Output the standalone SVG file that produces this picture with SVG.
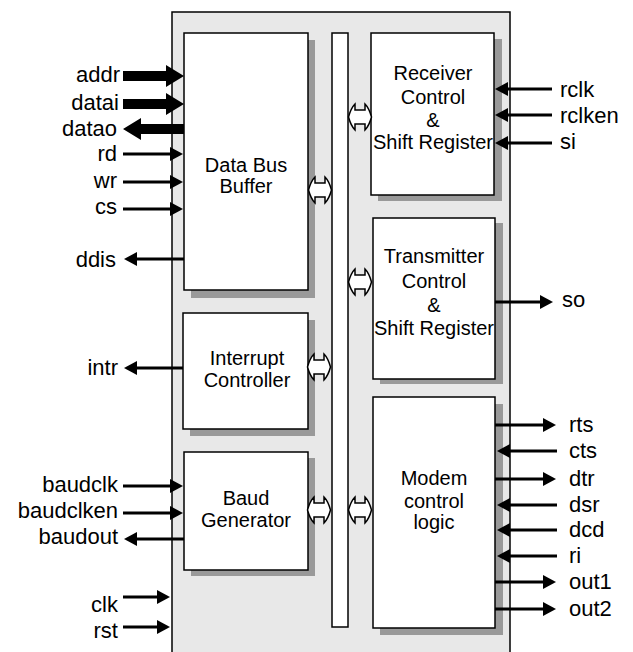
<svg xmlns="http://www.w3.org/2000/svg" width="633" height="652" viewBox="0 0 633 652">
<style>
.box{fill:#fff;stroke:#000;stroke-width:1.5}
.sh{fill:#999}
.bt{font-family:"Liberation Sans",Arial,sans-serif;font-size:20px;text-anchor:middle;fill:#000}
.lb{font-family:"Liberation Sans",Arial,sans-serif;font-size:22px;fill:#000}
.le{text-anchor:end}
.w{stroke:#000;stroke-width:3;fill:none;marker-end:url(#ah)}
.fat{fill:#000}
.bi{fill:#fff;stroke:#000;stroke-width:1.5}
</style>
<defs>
<marker id="ah" viewBox="0 0 13 14" markerWidth="13" markerHeight="14" refX="7" refY="7" orient="auto" markerUnits="userSpaceOnUse">
<path d="M0,0 L13,7 L0,14 Z" fill="#000"/>
</marker>
<path id="bia" d="M-11.5,0 Q-9,-9 -5,-13 L-5,-7 L5,-7 L5,-13 Q9,-9 11.5,0 Q9,9 5,13 L5,7 L-5,7 L-5,13 Q-9,9 -11.5,0 Z"/>
</defs>
<rect id="chip" x="172" y="12" width="338" height="660" fill="#e8e8e8" stroke="#000" stroke-width="1.5"/>
<g id="bus"><rect x="332" y="33" width="16" height="594" class="box"/></g>
<g id="databus">
<rect x="191" y="40" width="124" height="258" class="sh"/>
<rect x="184" y="33" width="124" height="257" class="box"/>
<text class="bt" x="246" y="172">Data Bus</text>
<text class="bt" x="246" y="193">Buffer</text>
</g>
<g id="interrupt">
<rect x="190" y="320" width="125" height="116" class="sh"/>
<rect x="183" y="313" width="125" height="116" class="box"/>
<text class="bt" x="247" y="365">Interrupt</text>
<text class="bt" x="247" y="387">Controller</text>
</g>
<g id="baud">
<rect x="191" y="458" width="124" height="118" class="sh"/>
<rect x="184" y="452" width="124" height="118" class="box"/>
<text class="bt" x="246" y="505">Baud</text>
<text class="bt" x="246" y="527">Generator</text>
</g>
<g id="receiver">
<rect x="378" y="39" width="124" height="162" class="sh"/>
<rect x="371" y="33" width="123" height="162" class="box"/>
<text class="bt" x="433" y="80">Receiver</text>
<text class="bt" x="433" y="104">Control</text>
<text class="bt" x="433" y="127">&amp;</text>
<text class="bt" x="433" y="149">Shift Register</text>
</g>
<g id="transmitter">
<rect x="380" y="223" width="123" height="161" class="sh"/>
<rect x="373" y="218" width="122" height="161" class="box"/>
<text class="bt" x="434" y="263">Transmitter</text>
<text class="bt" x="434" y="288">Control</text>
<text class="bt" x="434" y="312">&amp;</text>
<text class="bt" x="434" y="335">Shift Register</text>
</g>
<g id="modem">
<rect x="380" y="404" width="123" height="231" class="sh"/>
<rect x="373" y="397" width="122" height="231" class="box"/>
<text class="bt" x="434" y="485">Modem</text>
<text class="bt" x="434" y="508">control</text>
<text class="bt" x="434" y="529">logic</text>
</g>
<g id="connectors">
<use href="#bia" class="bi" transform="translate(320,190)"/>
<use href="#bia" class="bi" transform="translate(360,117)"/>
<use href="#bia" class="bi" transform="translate(360,282)"/>
<use href="#bia" class="bi" transform="translate(319,367)"/>
<use href="#bia" class="bi" transform="translate(319,510)"/>
<use href="#bia" class="bi" transform="translate(360,510)"/>
<polygon class="fat" points="123,71 166,71 166,65 184,76 166,87 166,81 123,81"/>
<polygon class="fat" points="123,99 166,99 166,93 184,104 166,115 166,109 123,109"/>
<polygon class="fat" points="184,124 141,124 141,118 123,129 141,140 141,134 184,134"/>
<line class="w" x1="123" y1="154" x2="177" y2="154"/>
<line class="w" x1="123" y1="182" x2="177" y2="182"/>
<line class="w" x1="123" y1="209" x2="177" y2="209"/>
<line class="w" x1="184" y1="259" x2="130" y2="259"/>
<line class="w" x1="183" y1="368" x2="130" y2="368"/>
<line class="w" x1="123" y1="486" x2="177" y2="486"/>
<line class="w" x1="123" y1="513" x2="177" y2="513"/>
<line class="w" x1="184" y1="539" x2="130" y2="539"/>
<line class="w" x1="123" y1="597" x2="164" y2="597"/>
<line class="w" x1="123" y1="627" x2="164" y2="627"/>
<line class="w" x1="552" y1="89" x2="501" y2="89"/>
<line class="w" x1="552" y1="115" x2="501" y2="115"/>
<line class="w" x1="552" y1="143" x2="501" y2="143"/>
<line class="w" x1="495" y1="302" x2="547" y2="302"/>
<line class="w" x1="495" y1="425" x2="550" y2="425"/>
<line class="w" x1="557" y1="451" x2="503" y2="451"/>
<line class="w" x1="495" y1="479" x2="550" y2="479"/>
<line class="w" x1="557" y1="505" x2="503" y2="505"/>
<line class="w" x1="557" y1="530" x2="503" y2="530"/>
<line class="w" x1="557" y1="556" x2="503" y2="556"/>
<line class="w" x1="495" y1="582" x2="550" y2="582"/>
<line class="w" x1="495" y1="609" x2="550" y2="609"/>
</g>
<g id="labels">
<text class="lb le" x="120" y="82">addr</text>
<text class="lb le" x="119" y="110">datai</text>
<text class="lb le" x="117" y="136">datao</text>
<text class="lb le" x="117" y="161">rd</text>
<text class="lb le" x="117" y="188">wr</text>
<text class="lb le" x="117" y="214">cs</text>
<text class="lb le" x="116" y="267">ddis</text>
<text class="lb le" x="118" y="375">intr</text>
<text class="lb le" x="118" y="492">baudclk</text>
<text class="lb le" x="118" y="518">baudclken</text>
<text class="lb le" x="118" y="544">baudout</text>
<text class="lb le" x="118" y="612">clk</text>
<text class="lb le" x="118" y="638">rst</text>
<text class="lb" x="560" y="97">rclk</text>
<text class="lb" x="560" y="123">rclken</text>
<text class="lb" x="560" y="149">si</text>
<text class="lb" x="562" y="307">so</text>
<text class="lb" x="569" y="432">rts</text>
<text class="lb" x="569" y="458">cts</text>
<text class="lb" x="569" y="486">dtr</text>
<text class="lb" x="569" y="512">dsr</text>
<text class="lb" x="569" y="537">dcd</text>
<text class="lb" x="569" y="563">ri</text>
<text class="lb" x="569" y="589">out1</text>
<text class="lb" x="569" y="616">out2</text>
</g>
</svg>
